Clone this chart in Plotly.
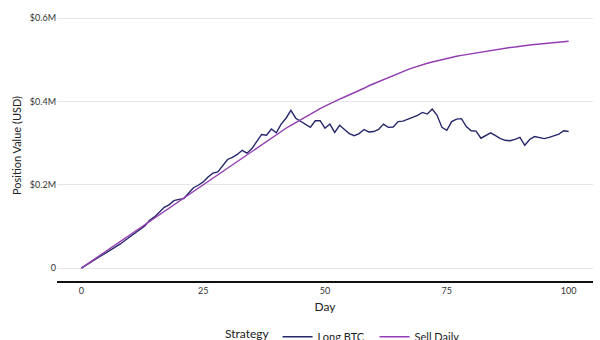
import plotly.graph_objects as go

days = list(range(101))

# Position value in USD millions
long_btc = [
    0.000, 0.008, 0.015, 0.022, 0.029, 0.036, 0.043, 0.050, 0.058, 0.067,
    0.076, 0.084, 0.092, 0.101, 0.115, 0.123, 0.134, 0.146, 0.152, 0.162,
    0.165, 0.167, 0.180, 0.193, 0.199, 0.207, 0.219, 0.228, 0.231, 0.245,
    0.261, 0.266, 0.273, 0.283, 0.276, 0.287, 0.304, 0.321, 0.319, 0.334,
    0.325, 0.346, 0.360, 0.379, 0.360, 0.352, 0.345, 0.338, 0.354, 0.354,
    0.336, 0.346, 0.326, 0.343, 0.333, 0.323, 0.318, 0.323, 0.333, 0.327,
    0.328, 0.333, 0.346, 0.338, 0.339, 0.352, 0.353, 0.358, 0.363, 0.367,
    0.374, 0.370, 0.382, 0.367, 0.338, 0.331, 0.352, 0.358, 0.359, 0.340,
    0.330, 0.329, 0.312, 0.318, 0.325, 0.318, 0.311, 0.307, 0.306, 0.309,
    0.314, 0.295, 0.309, 0.316, 0.314, 0.311, 0.314, 0.318, 0.322, 0.330,
    0.328,
]

sell_daily = [
    0.000, 0.008, 0.016, 0.024, 0.032, 0.040, 0.048, 0.056, 0.064, 0.072,
    0.080, 0.088, 0.096, 0.104, 0.112, 0.120, 0.128, 0.136, 0.144, 0.152,
    0.160, 0.168, 0.176, 0.184, 0.192, 0.200, 0.208, 0.216, 0.224, 0.232,
    0.241, 0.249, 0.257, 0.266, 0.274, 0.282, 0.290, 0.298, 0.306, 0.314,
    0.322, 0.329, 0.336, 0.343, 0.350, 0.357, 0.364, 0.370, 0.376, 0.383,
    0.389, 0.395, 0.400, 0.406, 0.411, 0.416, 0.422, 0.427, 0.432, 0.438,
    0.443, 0.448, 0.453, 0.458, 0.463, 0.468, 0.472, 0.477, 0.481, 0.485,
    0.489, 0.492, 0.495, 0.498, 0.501, 0.504, 0.507, 0.509, 0.511, 0.513,
    0.515, 0.517, 0.519, 0.521, 0.523, 0.525, 0.526, 0.528, 0.530, 0.531,
    0.533, 0.534, 0.536, 0.537, 0.538, 0.540, 0.541, 0.542, 0.543, 0.544,
    0.545,
]

x_ticks = [0, 25, 50, 75, 100]
y_tick_vals = [0, 200000, 400000, 600000]
y_tick_text = ["0", "$0.2M", "$0.4M", "$0.6M"]

series = [
    ("Long BTC", long_btc, "#25266a"),
    ("Sell Daily", sell_daily, "#933db0"),
]

fig = go.Figure()
for name, vals, color in series:
    fig.add_trace(go.Scatter(
        x=days, y=[v * 1e6 for v in vals], mode="lines", name=name,
        line=dict(color=color, width=1.4),
    ))

fig.update_layout(
    width=600, height=340,
    margin=dict(l=57, r=7, t=10, b=59, autoexpand=False),
    paper_bgcolor="white", plot_bgcolor="white",
    font=dict(family="Lato, sans-serif", color="#333333"),
    showlegend=True,
    legend=dict(
        orientation="h", x=0.542, xanchor="center", y=-0.152, yanchor="top",
        itemwidth=30, entrywidth=52,
        title=dict(text="Strategy", font=dict(size=12, color="#222")),
        font=dict(size=11, color="#222"),
    ),
)
fig.update_xaxes(
    range=[-5, 105], tickvals=x_ticks, showgrid=False, zeroline=False,
    showline=True, linecolor="#111111", linewidth=2,
    tickfont=dict(size=9, color="#333"),
    title=dict(text="Day", font=dict(size=12, color="#222"), standoff=8),
)
fig.update_yaxes(
    range=[-31000, 620000], tickvals=y_tick_vals, ticktext=y_tick_text,
    showgrid=True, gridcolor="#e6e6e6", gridwidth=1, zeroline=False,
    showline=False, tickfont=dict(size=9, color="#333"),
    title=dict(text="Position Value (USD)", font=dict(size=11, color="#222"), standoff=6),
)

fig.write_html("out.html")
